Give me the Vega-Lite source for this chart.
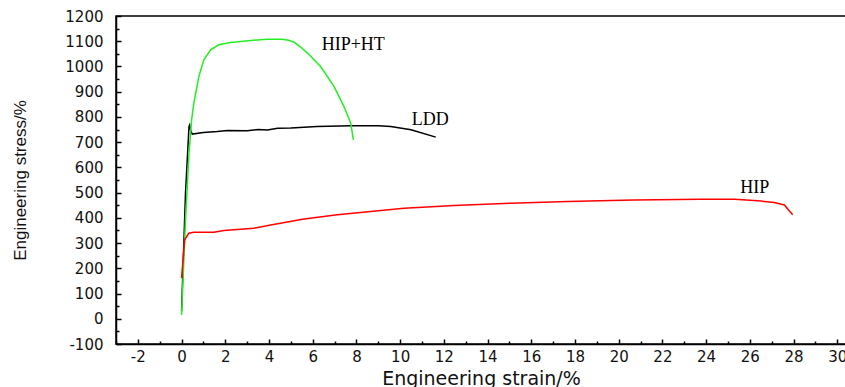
{
  "$schema": "https://vega.github.io/schema/vega-lite/v6.json",
  "autosize": {"type": "none"},
  "padding": {"left": 116, "top": 16, "right": 0, "bottom": 43},
  "width": 730,
  "height": 328,
  "background": "white",
  "config": {"view": {"stroke": "black", "strokeWidth": 1.5}},
  "datasets": {
    "curves": [
      {"s": "LDD", "i": 0, "x": 0.0, "y": 30},
      {"s": "LDD", "i": 1, "x": 0.18, "y": 498},
      {"s": "LDD", "i": 2, "x": 0.34, "y": 762},
      {"s": "LDD", "i": 3, "x": 0.37, "y": 768},
      {"s": "LDD", "i": 4, "x": 0.42, "y": 745},
      {"s": "LDD", "i": 5, "x": 0.49, "y": 732},
      {"s": "LDD", "i": 6, "x": 1.0, "y": 738},
      {"s": "LDD", "i": 7, "x": 1.63, "y": 742},
      {"s": "LDD", "i": 8, "x": 2.1, "y": 746},
      {"s": "LDD", "i": 9, "x": 3.0, "y": 745},
      {"s": "LDD", "i": 10, "x": 3.5, "y": 750},
      {"s": "LDD", "i": 11, "x": 3.92, "y": 748},
      {"s": "LDD", "i": 12, "x": 4.4, "y": 755},
      {"s": "LDD", "i": 13, "x": 5.0, "y": 756},
      {"s": "LDD", "i": 14, "x": 6.2, "y": 762},
      {"s": "LDD", "i": 15, "x": 7.74, "y": 765},
      {"s": "LDD", "i": 16, "x": 9.0, "y": 765},
      {"s": "LDD", "i": 17, "x": 9.57, "y": 762},
      {"s": "LDD", "i": 18, "x": 10.5, "y": 749},
      {"s": "LDD", "i": 19, "x": 11.63, "y": 720},
      {"s": "HIP+HT", "i": 0, "x": 0.0, "y": 15},
      {"s": "HIP+HT", "i": 1, "x": 0.18, "y": 392},
      {"s": "HIP+HT", "i": 2, "x": 0.34, "y": 656},
      {"s": "HIP+HT", "i": 3, "x": 0.46, "y": 788},
      {"s": "HIP+HT", "i": 4, "x": 0.56, "y": 854},
      {"s": "HIP+HT", "i": 5, "x": 0.79, "y": 960},
      {"s": "HIP+HT", "i": 6, "x": 1.02, "y": 1026},
      {"s": "HIP+HT", "i": 7, "x": 1.33, "y": 1066},
      {"s": "HIP+HT", "i": 8, "x": 1.7, "y": 1086},
      {"s": "HIP+HT", "i": 9, "x": 2.24, "y": 1095},
      {"s": "HIP+HT", "i": 10, "x": 3.16, "y": 1103},
      {"s": "HIP+HT", "i": 11, "x": 3.92, "y": 1108},
      {"s": "HIP+HT", "i": 12, "x": 4.6, "y": 1108},
      {"s": "HIP+HT", "i": 13, "x": 4.9, "y": 1104},
      {"s": "HIP+HT", "i": 14, "x": 5.15, "y": 1096},
      {"s": "HIP+HT", "i": 15, "x": 5.45, "y": 1077},
      {"s": "HIP+HT", "i": 16, "x": 5.76, "y": 1053},
      {"s": "HIP+HT", "i": 17, "x": 6.36, "y": 1000},
      {"s": "HIP+HT", "i": 18, "x": 6.98, "y": 920},
      {"s": "HIP+HT", "i": 19, "x": 7.43, "y": 841},
      {"s": "HIP+HT", "i": 20, "x": 7.74, "y": 775},
      {"s": "HIP+HT", "i": 21, "x": 7.86, "y": 709},
      {"s": "HIP", "i": 0, "x": 0.0, "y": 161},
      {"s": "HIP", "i": 1, "x": 0.08, "y": 247},
      {"s": "HIP", "i": 2, "x": 0.14, "y": 313},
      {"s": "HIP", "i": 3, "x": 0.33, "y": 339},
      {"s": "HIP", "i": 4, "x": 0.56, "y": 343},
      {"s": "HIP", "i": 5, "x": 1.48, "y": 343},
      {"s": "HIP", "i": 6, "x": 1.94, "y": 350},
      {"s": "HIP", "i": 7, "x": 3.31, "y": 359},
      {"s": "HIP", "i": 8, "x": 4.08, "y": 372},
      {"s": "HIP", "i": 9, "x": 5.6, "y": 395},
      {"s": "HIP", "i": 10, "x": 7.13, "y": 412},
      {"s": "HIP", "i": 11, "x": 8.65, "y": 425},
      {"s": "HIP", "i": 12, "x": 10.18, "y": 438},
      {"s": "HIP", "i": 13, "x": 12.47, "y": 449},
      {"s": "HIP", "i": 14, "x": 15.06, "y": 458},
      {"s": "HIP", "i": 15, "x": 17.66, "y": 465},
      {"s": "HIP", "i": 16, "x": 20.7, "y": 471},
      {"s": "HIP", "i": 17, "x": 23.76, "y": 474},
      {"s": "HIP", "i": 18, "x": 25.3, "y": 474},
      {"s": "HIP", "i": 19, "x": 26.36, "y": 468},
      {"s": "HIP", "i": 20, "x": 27.12, "y": 461},
      {"s": "HIP", "i": 21, "x": 27.58, "y": 451},
      {"s": "HIP", "i": 22, "x": 27.96, "y": 412}
    ],
    "labels": [
      {"t": "HIP+HT", "x": 6.41, "y": 1086},
      {"t": "LDD", "x": 10.53, "y": 788},
      {"t": "HIP", "x": 25.56, "y": 519}
    ]
  },
  "layer": [
    {
      "data": {"name": "curves"},
      "mark": {"type": "line", "strokeWidth": 1.5, "clip": true},
      "encoding": {
        "x": {
          "field": "x", "type": "quantitative",
          "scale": {"domain": [-3, 30.4], "nice": false, "zero": false},
          "axis": {
            "orient": "bottom",
            "values": [-2, 0, 2, 4, 6, 8, 10, 12, 14, 16, 18, 20, 22, 24, 26, 28, 30],
            "labelExpr": "'' + datum.value",
            "title": "Engineering strain/%",
            "titleFont": "DejaVu Sans", "titleFontSize": 19, "titleFontWeight": "normal",
            "titleColor": "#111", "titlePadding": 5,
            "labelFont": "DejaVu Sans", "labelFontSize": 15, "labelColor": "#111",
            "labelPadding": 10, "labelFlush": false, "labelOverlap": false,
            "tickSize": -5, "tickWidth": 1.5, "tickColor": "black",
            "domainColor": "black", "domainWidth": 1.5, "grid": false
          }
        },
        "y": {
          "field": "y", "type": "quantitative",
          "scale": {"domain": [-100, 1200], "nice": false, "zero": false},
          "axis": {
            "orient": "left",
            "values": [-100, 0, 100, 200, 300, 400, 500, 600, 700, 800, 900, 1000, 1100, 1200],
            "labelExpr": "'' + datum.value",
            "title": "Engineering stress/%",
            "titleFont": "Liberation Sans", "titleFontSize": 17, "titleFontWeight": "normal",
            "titleColor": "#111", "titlePadding": 35,
            "labelFont": "DejaVu Sans", "labelFontSize": 15, "labelColor": "#111",
            "labelPadding": 18, "labelFlush": false, "labelOverlap": false,
            "tickSize": -5, "tickWidth": 1.5, "tickColor": "black",
            "domainColor": "black", "domainWidth": 1.5, "grid": false
          }
        },
        "color": {
          "field": "s", "type": "nominal",
          "scale": {"domain": ["LDD", "HIP+HT", "HIP"], "range": ["#000000", "#22ee22", "#ff0000"]},
          "legend": null
        },
        "detail": {"field": "s"},
        "order": {"field": "i", "type": "quantitative"}
      }
    },
    {
      "data": {"name": "labels"},
      "mark": {"type": "text", "align": "left", "baseline": "middle", "font": "Liberation Serif", "fontSize": 18, "color": "black"},
      "encoding": {
        "x": {
          "field": "x", "type": "quantitative",
          "axis": {
            "orient": "bottom",
            "values": [-3, -1, 1, 3, 5, 7, 9, 11, 13, 15, 17, 19, 21, 23, 25, 27, 29],
            "labels": false, "title": null, "domain": false, "grid": false,
            "tickSize": -3, "tickWidth": 1.5, "tickColor": "black"
          }
        },
        "y": {
          "field": "y", "type": "quantitative",
          "axis": {
            "orient": "left",
            "values": [-50, 50, 150, 250, 350, 450, 550, 650, 750, 850, 950, 1050, 1150],
            "labels": false, "title": null, "domain": false, "grid": false,
            "tickSize": -3, "tickWidth": 1.5, "tickColor": "black"
          }
        },
        "text": {"field": "t"}
      }
    }
  ],
  "resolve": {"axis": {"x": "independent", "y": "independent"}}
}
